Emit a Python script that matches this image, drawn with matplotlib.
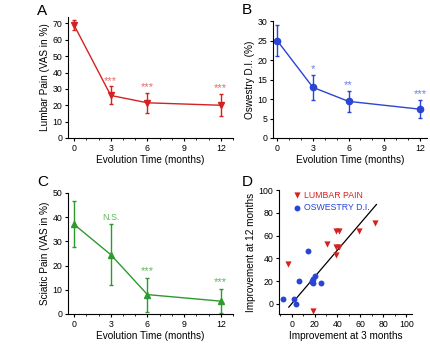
import matplotlib
matplotlib.use("Agg")
import matplotlib.pyplot as plt
from matplotlib.ticker import MultipleLocator

# ---- data ----
months = [0, 3, 6, 12]
lumbar_mean = [69, 26, 21.5, 20]
lumbar_err = [3, 5.5, 6, 6.7]
lumbar_sig = ["", "***", "***", "***"]

odi_mean = [25, 13, 9.4, 7.4]
odi_err = [4, 3.2, 2.7, 2.3]
odi_sig = ["", "*", "**", "***"]

sciatic_mean = [37, 24.5, 8, 5.3]
sciatic_err = [9.5, 12.5, 7, 5]
sciatic_sig = ["", "N.S.", "***", "***"]

lumbar_x3 = [-3, 19, 31, 39, 41, 39, 41, 39, 59, 73]
lumbar_y12 = [35, -6, 53, 64, 64, 50, 50, 43, 64, 71]
odi_x3 = [-8, 2, 4, 6, 14, 18, 19, 20, 19, 26, 18]
odi_y12 = [4, 4, 0, 20, 46, 20, 22, 24, 18, 18, 19]
fit_slope = 1.18
fit_intercept = 0.0
fit_x_range = [-2.5, 74]

RED = "#d42222"
BLUE = "#2a44d4"
GREEN = "#2e9a2e"
RED_L = "#e86a6a"
BLUE_L = "#6a7fe0"
GREEN_L = "#5fb85f"

plt.rcParams['font.family'] = ['Liberation Sans', 'DejaVu Sans']
fig = plt.figure(figsize=(4.30, 3.52), dpi=100)

def style(ax):
    for s in ("top", "right"):
        ax.spines[s].set_visible(False)
    for s in ("left", "bottom"):
        ax.spines[s].set_linewidth(0.8)
    ax.tick_params(labelsize=6.3, length=2.5, width=0.8, pad=1.5)
    ax.tick_params(which="minor", length=1.5, width=0.6)

def time_panel(rect, mean, err, sig, color, lcolor, marker, ylim, ystep, ylabel, xlim, sig_off):
    ax = fig.add_axes(rect)
    ax.errorbar(months, mean, yerr=err, color=color, marker=marker, markersize=4.5,
                linewidth=1.0, elinewidth=1.0, capsize=1.5, capthick=1.0)
    for x, m, e, s in zip(months, mean, err, sig):
        if s:
            fs = 6.5 if s == "N.S." else 8
            ax.text(x, m + e + sig_off, s, color=lcolor, ha="center", va="bottom", fontsize=fs)
    ax.set_xlim(*xlim)
    ax.set_ylim(*ylim)
    ax.set_xticks([0, 3, 6, 9, 12])
    ax.xaxis.set_minor_locator(MultipleLocator(1))
    ax.yaxis.set_major_locator(MultipleLocator(ystep))
    ax.set_xlabel("Evolution Time (months)", fontsize=7.2, labelpad=2)
    ax.set_ylabel(ylabel, fontsize=7.2, labelpad=2)
    style(ax)
    return ax

time_panel([0.158, 0.608, 0.384, 0.344], lumbar_mean, lumbar_err, lumbar_sig, RED, RED_L, "v",
           (0, 74), 10, "Lumbar Pain (VAS in %)", (-0.5, 13), 0.5)
time_panel([0.635, 0.608, 0.358, 0.332], odi_mean, odi_err, odi_sig, BLUE, BLUE_L, "o",
           (0, 30), 5, "Oswestry D.I. (%)", (-0.35, 12.6), 0.2)
time_panel([0.158, 0.108, 0.384, 0.344], sciatic_mean, sciatic_err, sciatic_sig, GREEN, GREEN_L, "^",
           (0, 50), 10, "Sciatic Pain (VAS in %)", (-0.5, 13), 0.8)

axd = fig.add_axes([0.649, 0.108, 0.309, 0.352])
axd.scatter(lumbar_x3, lumbar_y12, marker="v", color=RED, s=20, label="LUMBAR PAIN", zorder=3, linewidths=0)
axd.scatter(odi_x3, odi_y12, marker="o", color=BLUE, s=18, label="OSWESTRY D.I.", zorder=3, linewidths=0)
axd.plot(fit_x_range, [fit_slope * x + fit_intercept for x in fit_x_range], color="black", linewidth=0.9)
axd.set_xlim(-11, 105)
axd.set_ylim(-9, 100)
axd.set_xticks([0, 20, 40, 60, 80, 100])
axd.set_yticks([0, 20, 40, 60, 80, 100])
axd.xaxis.set_minor_locator(MultipleLocator(10))
axd.set_xlabel("Improvement at 3 months", fontsize=7.2, labelpad=2)
axd.set_ylabel("Improvement at 12 months", fontsize=7.2, labelpad=2)
style(axd)
leg = axd.legend(loc="upper left", fontsize=6.3, frameon=False, handletextpad=0.2,
                 handlelength=1.2, borderaxespad=0.1, labelspacing=0.35,
                 bbox_to_anchor=(0.06, 1.03))
for t, c in zip(leg.get_texts(), [RED, BLUE]):
    t.set_color(c)

fig.text(42 / 430, 1 - 11 / 352, "A", fontsize=11, ha="center", va="center")
fig.text(247 / 430, 1 - 10 / 352, "B", fontsize=11, ha="center", va="center")
fig.text(43 / 430, 1 - 182 / 352, "C", fontsize=11, ha="center", va="center")
fig.text(247 / 430, 1 - 182 / 352, "D", fontsize=11, ha="center", va="center")

fig.savefig("out.png", dpi=100)
